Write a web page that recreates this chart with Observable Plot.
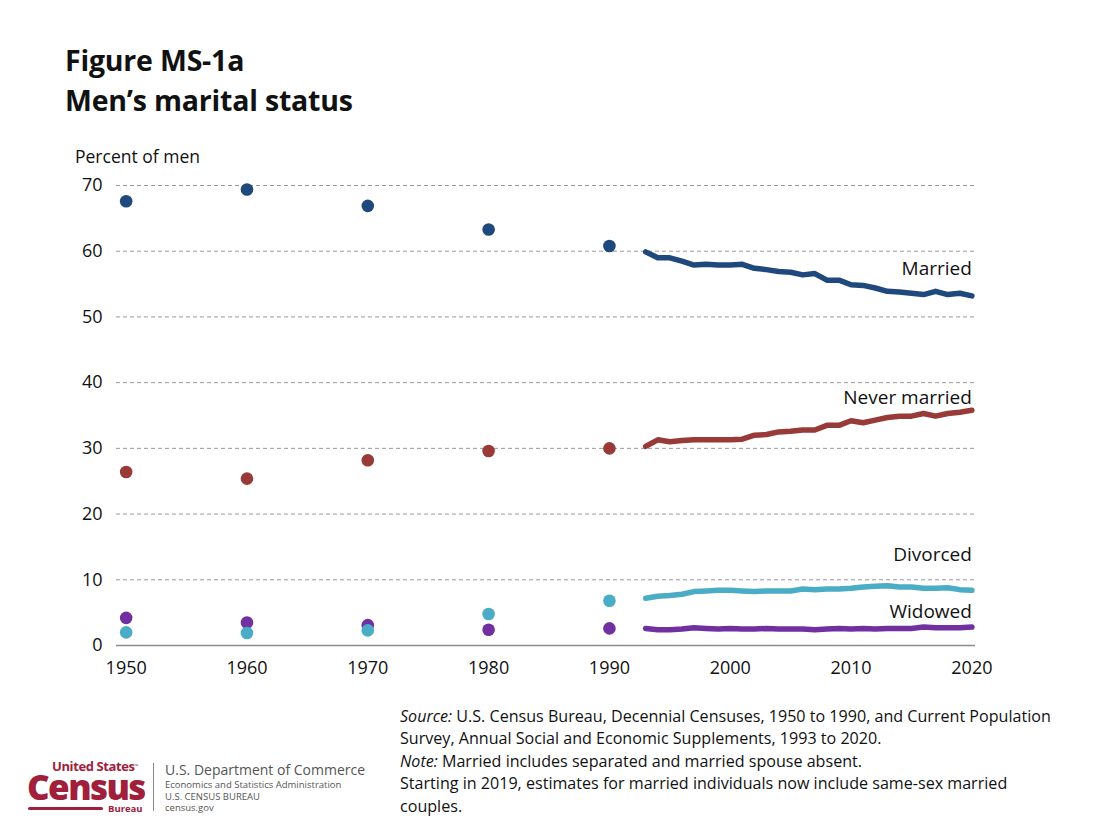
<!DOCTYPE html>
<html>
<head>
<meta charset="utf-8">
<script src="https://cdn.jsdelivr.net/npm/d3@7"></script>
<script src="https://cdn.jsdelivr.net/npm/@observablehq/plot@0.6"></script>
<style>
  html, body { margin: 0; padding: 0; background: #fff; }
  body { width: 1111px; height: 834px; position: relative; overflow: hidden; font-family: "Open Sans", "Noto Sans", sans-serif; color: #111; }
  .title { position: absolute; left: 65px; top: 40px; font-size: 28.5px; font-weight: 700; line-height: 40px; color: #111; letter-spacing: -0.2px; }
  .ylab { position: absolute; left: 75px; top: 144px; font-size: 17.5px; color: #111; }
  #chart { position: absolute; left: 0; top: 165px; }
  .foot { position: absolute; left: 400px; top: 705px; font-size: 16.1px; line-height: 22.4px; color: #111; white-space: nowrap; }
  .logo { position: absolute; left: 28px; top: 757px; width: 360px; height: 60px; }
  .lg-us { position: absolute; left: 24px; top: 2px; font-size: 13px; line-height: 14px; font-weight: 700; color: #a0203c; letter-spacing: -0.4px; white-space: nowrap; }
  .lg-tm { font-size: 5px; vertical-align: top; }
  .lg-census { position: absolute; left: -1px; top: 15px; font-size: 35px; font-weight: 800; color: #a0203c; letter-spacing: -1.6px; line-height: 30px; }
  .lg-bureau { position: absolute; left: 80px; top: 46px; font-size: 9.5px; line-height: 11px; font-weight: 700; color: #a0203c; }
  .lg-bar { position: absolute; left: 0px; top: 50px; width: 75px; height: 3px; background: #a0203c; border-radius: 2px; }
  .lg-sep { position: absolute; left: 125px; top: 6px; width: 1px; height: 48px; background: #888; }
  .lg-t1 { position: absolute; left: 137px; top: 3px; font-size: 14px; color: #555; white-space: nowrap; }
  .lg-t2 { position: absolute; left: 137px; top: 22px; font-size: 9.5px; line-height: 11.5px; color: #555; white-space: nowrap; }
</style>
</head>
<body>
<div class="title">Figure MS-1a<br>Men’s marital status</div>
<div class="ylab">Percent of men</div>
<div id="chart"></div>
<div class="foot"><i>Source:</i> U.S. Census Bureau, Decennial Censuses, 1950 to 1990, and Current Population<br>Survey, Annual Social and Economic Supplements, 1993 to 2020.<br><i>Note:</i> Married includes separated and married spouse absent.<br>Starting in 2019, estimates for married individuals now include same-sex married<br>couples.</div>
<div class="logo">
  <div class="lg-us">United States<span class="lg-tm">™</span></div>
  <div class="lg-census">Census</div>
  <div class="lg-bar"></div>
  <div class="lg-bureau">Bureau</div>
  <div class="lg-sep"></div>
  <div class="lg-t1">U.S. Department of Commerce</div>
  <div class="lg-t2">Economics and Statistics Administration<br>U.S. CENSUS BUREAU<br>census.gov</div>
</div>
<script>
// ---- Data ----
const seriesNames = ["Married", "Never married", "Widowed", "Divorced"];
const seriesColors = ["#1f497d", "#983a37", "#7030a0", "#4bacc6"];

// Decennial census points
const censusYears = [1950, 1960, 1970, 1980, 1990];
const censusMarried = [67.6, 69.4, 66.9, 63.3, 60.8];
const censusNeverMarried = [26.4, 25.4, 28.2, 29.6, 30.0];
const censusWidowed = [4.2, 3.5, 3.1, 2.4, 2.6];
const censusDivorced = [2.0, 1.9, 2.3, 4.8, 6.8];

// CPS ASEC annual estimates
const cpsYears = [1993, 1994, 1995, 1996, 1997, 1998, 1999, 2000, 2001, 2002, 2003, 2004, 2005, 2006,
                  2007, 2008, 2009, 2010, 2011, 2012, 2013, 2014, 2015, 2016, 2017, 2018, 2019, 2020];
const cpsMarried = [59.9, 59.0, 59.0, 58.5, 57.9, 58.0, 57.9, 57.9, 58.0, 57.4, 57.2, 56.9, 56.8, 56.4,
                    56.6, 55.6, 55.6, 54.9, 54.8, 54.4, 53.9, 53.8, 53.6, 53.4, 53.9, 53.4, 53.6, 53.2];
const cpsNeverMarried = [30.3, 31.3, 31.0, 31.2, 31.3, 31.3, 31.3, 31.3, 31.4, 32.0, 32.1, 32.5, 32.6, 32.8,
                         32.8, 33.5, 33.5, 34.2, 33.9, 34.3, 34.7, 34.9, 34.9, 35.3, 34.9, 35.3, 35.5, 35.8];
const cpsDivorced = [7.2, 7.5, 7.6, 7.8, 8.2, 8.3, 8.4, 8.4, 8.3, 8.2, 8.3, 8.3, 8.3, 8.6,
                     8.5, 8.6, 8.6, 8.7, 8.9, 9.0, 9.1, 8.9, 8.9, 8.7, 8.7, 8.8, 8.5, 8.4];
const cpsWidowed = [2.6, 2.4, 2.4, 2.5, 2.7, 2.6, 2.5, 2.6, 2.5, 2.5, 2.6, 2.5, 2.5, 2.5,
                    2.4, 2.5, 2.6, 2.5, 2.6, 2.5, 2.6, 2.6, 2.6, 2.8, 2.7, 2.7, 2.7, 2.8];

const xTicks = [1950, 1960, 1970, 1980, 1990, 2000, 2010, 2020];
const yTicks = [0, 10, 20, 30, 40, 50, 60, 70];

// ---- Tables built from the arrays ----
const censusBySeries = {"Married": censusMarried, "Never married": censusNeverMarried, "Widowed": censusWidowed, "Divorced": censusDivorced};
const cpsBySeries = {"Married": cpsMarried, "Never married": cpsNeverMarried, "Widowed": cpsWidowed, "Divorced": cpsDivorced};
const dots = seriesNames.flatMap(s => censusYears.map((yr, i) => ({series: s, year: yr, value: censusBySeries[s][i]})));
const lines = seriesNames.flatMap(s => cpsYears.map((yr, i) => ({series: s, year: yr, value: cpsBySeries[s][i]})));
const lastPoints = seriesNames.map(s => ({series: s, year: cpsYears[cpsYears.length - 1], value: cpsBySeries[s][cpsBySeries[s].length - 1]}));

// label vertical offsets (style, px)
const labelDy = {"Married": -27, "Never married": -12, "Divorced": -35, "Widowed": -15};

const chart = Plot.plot({
  width: 1111,
  height: 530,
  marginLeft: 116,
  marginRight: 136,
  marginTop: 20,
  marginBottom: 50,
  style: {fontFamily: "'Open Sans', 'Noto Sans', sans-serif", fontSize: "18px", color: "#111", background: "transparent", overflow: "visible"},
  x: {domain: [1949.2, 2020.3], ticks: xTicks, tickFormat: d => String(d), tickSize: 0, tickPadding: 16, label: null},
  y: {domain: [0, 70], ticks: yTicks, tickSize: 0, tickPadding: 14, label: null},
  color: {domain: seriesNames, range: seriesColors},
  marks: [
    Plot.ruleY(yTicks.filter(d => d > 0), {stroke: "#9a9a9a", strokeWidth: 1, strokeDasharray: "4,3"}),
    Plot.ruleY([0], {stroke: "#8c8c8c", strokeWidth: 1.5}),
    Plot.dot(dots, {x: "year", y: "value", fill: "series", r: 6.3, stroke: "none"}),
    Plot.line(lines, {x: "year", y: "value", z: "series", stroke: "series", strokeWidth: 5.5, strokeLinejoin: "round", strokeLinecap: "round"}),
    ...seriesNames.map(s => Plot.text(lastPoints.filter(d => d.series === s), {
      x: "year", y: "value", text: "series", textAnchor: "end", dx: 0, dy: labelDy[s],
      fontSize: 19, fill: "#111"
    }))
  ]
});
document.getElementById("chart").appendChild(chart);
</script>
</body>
</html>
